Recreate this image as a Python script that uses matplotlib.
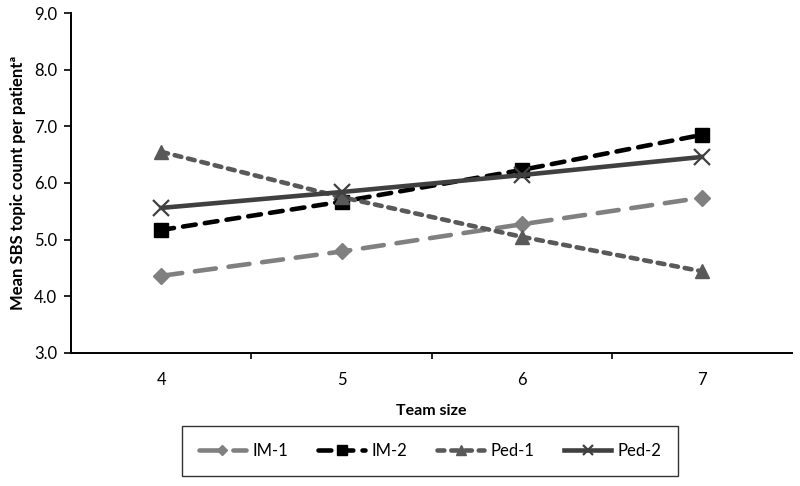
import matplotlib
matplotlib.use("Agg")
import matplotlib.pyplot as plt
from matplotlib.ticker import FixedLocator, MultipleLocator, FormatStrFormatter

plt.rcParams['font.family'] = ['Lato', 'DejaVu Sans']

categories = ["4", "5", "6", "7"]
im1 = [4.36, 4.79, 5.27, 5.74]
im2 = [5.17, 5.67, 6.23, 6.85]
ped1 = [6.55, 5.75, 5.05, 4.44]
ped2 = [5.56, 5.84, 6.14, 6.46]
series_names = ["IM-1", "IM-2", "Ped-1", "Ped-2"]

fig = plt.figure(figsize=(8.0, 4.86), dpi=100)
ax = fig.add_axes([0.089, 0.274, 0.901, 0.699])

x = list(range(len(categories)))
lw = 3.3
h1, = ax.plot(x, im1, color="#808080", lw=lw, linestyle=(0, (4.6, 2.8)),
              marker="D", markersize=8, dash_capstyle="round", label=series_names[0])
h2, = ax.plot(x, im2, color="#000000", lw=lw, linestyle=(0, (2.8, 2.0)),
              marker="s", markersize=10, dash_capstyle="round", label=series_names[1])
h3, = ax.plot(x, ped1, color="#595959", lw=lw, linestyle=(0, (1.5, 1.5)),
              marker="^", markersize=10, dash_capstyle="round", label=series_names[2])
h4, = ax.plot(x, ped2, color="#404040", lw=lw, linestyle="-",
              marker="x", markersize=11, markeredgewidth=1.6, label=series_names[3])

ax.set_xlim(-0.5, 3.5)
ax.set_ylim(3.0, 9.0)
ax.yaxis.set_major_locator(MultipleLocator(1.0))
ax.yaxis.set_major_formatter(FormatStrFormatter("%.1f"))

ax.set_xticks(x)
ax.set_xticklabels(categories)
ax.xaxis.set_minor_locator(FixedLocator([0.5, 1.5, 2.5]))
ax.tick_params(axis="x", which="major", length=0, pad=14, labelsize=12)
ax.tick_params(axis="x", which="minor", length=4, width=1.2, direction="out")
ax.tick_params(axis="y", which="major", length=5, width=1.2, direction="out", labelsize=12, pad=5)

for s in ["top", "right"]:
    ax.spines[s].set_visible(False)
for s in ["left", "bottom"]:
    ax.spines[s].set_linewidth(1.4)
    ax.spines[s].set_color("#000000")

ax.set_xlabel("Team size", fontsize=11.5, fontweight="bold", labelpad=11)
ax.set_ylabel("Mean SBS topic count per patientª", fontsize=12, fontweight="bold", labelpad=6)

leg = fig.legend(handles=[h1, h2, h3, h4], loc="center",
                 bbox_to_anchor=(0.538, 0.072), ncol=4, frameon=True,
                 fancybox=False, fontsize=12, handlelength=2.8, markerscale=0.7,
                 columnspacing=1.8, borderpad=1.0, handletextpad=0.4,
                 borderaxespad=0)
leg.get_frame().set_edgecolor("#000000")
leg.get_frame().set_linewidth(1.0)

fig.savefig("out.png", dpi=100)
